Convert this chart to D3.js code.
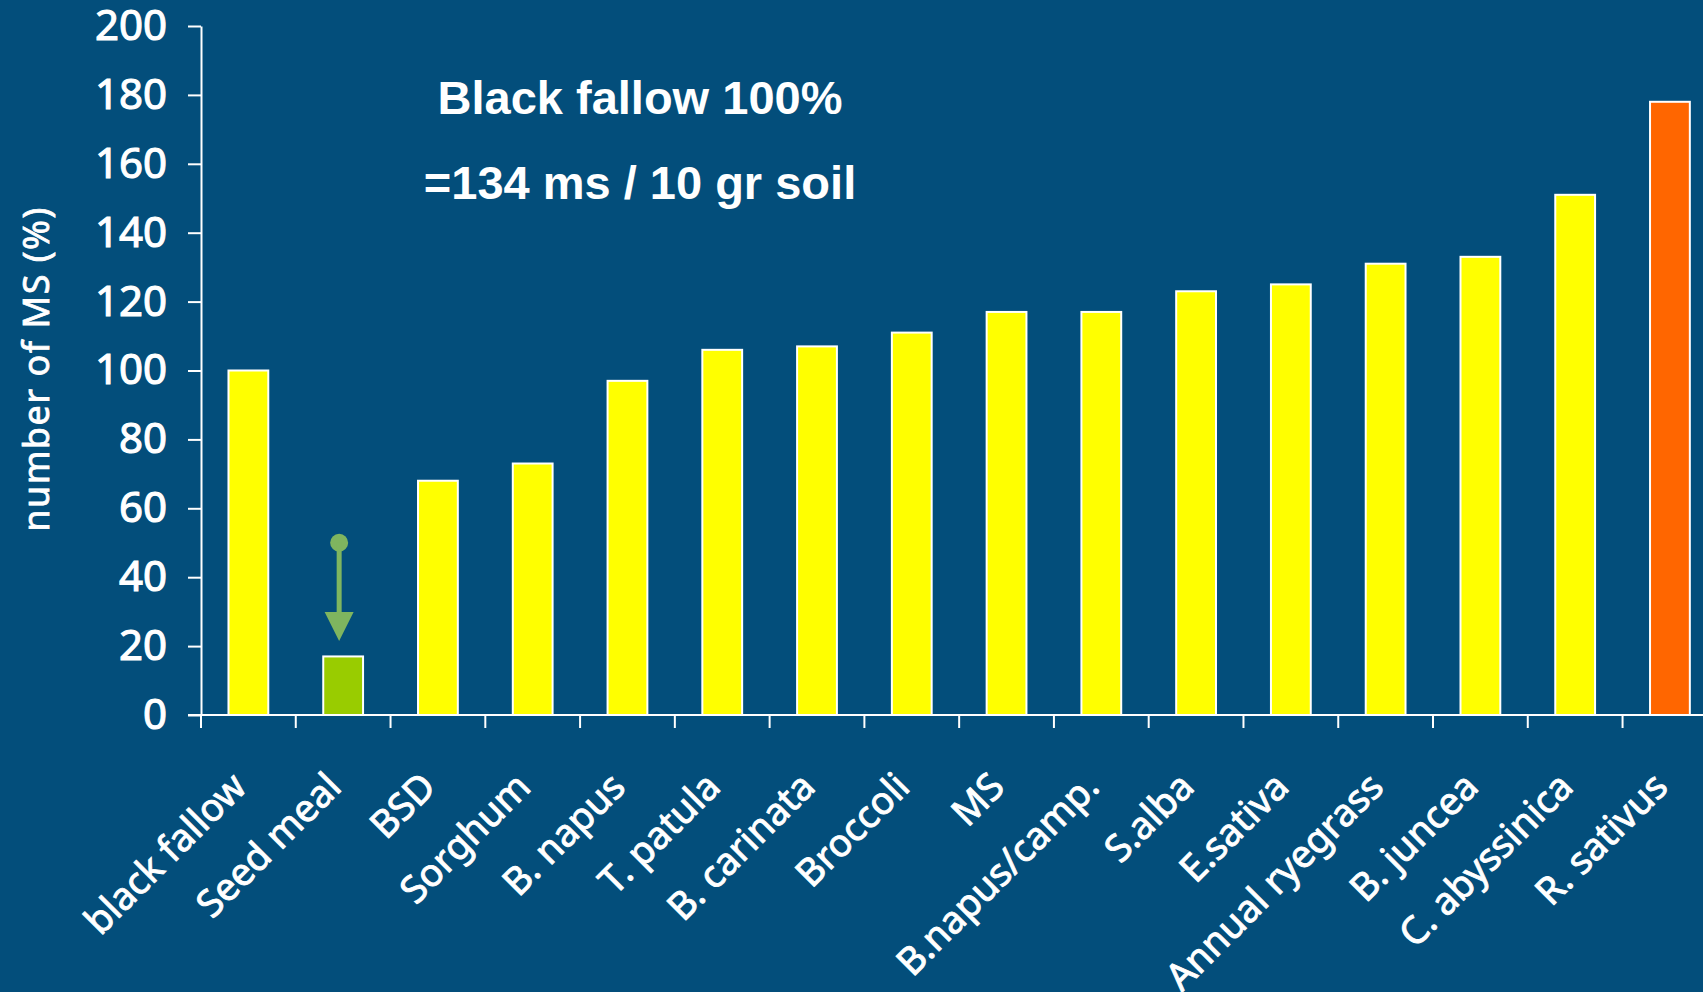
<!DOCTYPE html>
<html>
<head>
<meta charset="utf-8">
<script src="https://cdn.jsdelivr.net/npm/d3@7"></script>
<style>
  html, body { margin: 0; padding: 0; background: #034e7b; }
  svg { display: block; }
</style>
</head>
<body>
<svg id="chart" width="1703" height="992"></svg>
<script>
// ---- data ----
const categories = ["black fallow", "Seed meal", "BSD", "Sorghum", "B. napus", "T. patula",
  "B. carinata", "Broccoli", "MS", "B.napus/camp.", "S.alba", "E.sativa",
  "Annual ryegrass", "B. juncea", "C. abyssinica", "R. sativus"];
const values = [100, 17, 68, 73, 97, 106, 107, 111, 117, 117, 123, 125, 131, 133, 151, 178];
const barColors = ["#ffff00", "#99cc00", "#ffff00", "#ffff00", "#ffff00", "#ffff00",
  "#ffff00", "#ffff00", "#ffff00", "#ffff00", "#ffff00", "#ffff00",
  "#ffff00", "#ffff00", "#ffff00", "#ff6600"];
const yTicks = [0, 20, 40, 60, 80, 100, 120, 140, 160, 180, 200];
const yTitle = "number of MS (%)";
const noteLines = ["Black fallow 100%", "=134 ms / 10 gr soil"];
const arrowFrom = 50;   // value where the green arrow starts
const arrowTo = 21.5;   // value at arrow tip

// ---- layout ----
const svg = d3.select("#chart");
const W = 1703, H = 992;
const x0 = 201, step = 94.77, y0 = 715, yTop = 26;

const x = d3.scaleBand().domain(categories).range([x0, x0 + step * categories.length]).padding(0);
const y = d3.scaleLinear().domain([0, 200]).range([y0, yTop]);
const bw = x.bandwidth() * 0.42;

svg.append("rect").attr("width", W).attr("height", H).attr("fill", "#034e7b");

// bars
svg.append("g").selectAll("rect").data(categories).join("rect")
  .attr("x", d => x(d) + (x.bandwidth() - bw) / 2)
  .attr("y", (d, i) => y(values[i]))
  .attr("width", bw)
  .attr("height", (d, i) => y(0) - y(values[i]))
  .attr("fill", (d, i) => barColors[i])
  .attr("stroke", "#ffffff")
  .attr("stroke-width", 2);

// y axis
const yAxis = svg.append("g").attr("transform", `translate(${x0},0)`)
  .call(d3.axisLeft(y).tickValues(yTicks).tickSize(13).tickPadding(21).tickSizeOuter(0));
yAxis.select(".domain").attr("stroke", "#fff").attr("stroke-width", 2);
yAxis.selectAll(".tick line").attr("stroke", "#fff").attr("stroke-width", 2);
yAxis.selectAll(".tick text").attr("fill", "#fff")
  .attr("stroke", "#fff").attr("stroke-width", 1.1)
  .style("font-family", "'Noto Sans', sans-serif").style("font-size", "42px");

// x axis line
svg.append("line").attr("x1", x0 - 13).attr("x2", W).attr("y1", y0).attr("y2", y0)
  .attr("stroke", "#fff").attr("stroke-width", 2);
// x ticks at band boundaries
svg.append("g").selectAll("line").data(categories).join("line")
  .attr("x1", d => x(d)).attr("x2", d => x(d))
  .attr("y1", y0).attr("y2", y0 + 13)
  .attr("stroke", "#fff").attr("stroke-width", 2);

// x labels
svg.append("g").selectAll("text").data(categories).join("text")
  .attr("transform", d => `translate(${x(d) + x.bandwidth() / 2},${y0 + 74}) rotate(-45)`)
  .attr("text-anchor", "end")
  .attr("fill", "#fff")
  .attr("stroke", "#fff").attr("stroke-width", 0.9)
  .style("font-family", "'Noto Sans', sans-serif").style("font-size", "38px")
  .text(d => d);

// y title
svg.append("text")
  .attr("transform", `translate(49,369) rotate(-90)`)
  .attr("text-anchor", "middle")
  .attr("fill", "#fff")
  .attr("stroke", "#fff").attr("stroke-width", 0.8)
  .style("font-family", "'Noto Sans', sans-serif").style("font-size", "36px")
  .style("letter-spacing", "1.5px")
  .text(yTitle);

// annotation text
svg.append("g").selectAll("text").data(noteLines).join("text")
  .attr("x", 640).attr("y", (d, i) => [114, 199][i])
  .attr("text-anchor", "middle")
  .attr("fill", "#fff")
  .style("font-family", "'Liberation Sans', Arial, sans-serif").style("font-size", "47px")
  .style("font-weight", "bold")
  .text(d => d);

// green arrow over Seed meal
const ax = x("Seed meal") + x.bandwidth() / 2 - 4;
const green = "#7fb55f";
svg.append("circle").attr("cx", ax).attr("cy", y(arrowFrom)).attr("r", 9).attr("fill", green);
svg.append("line").attr("x1", ax).attr("x2", ax).attr("y1", y(arrowFrom)).attr("y2", y(arrowTo) - 25)
  .attr("stroke", green).attr("stroke-width", 5);
svg.append("path")
  .attr("d", `M${ax - 14.5},${y(arrowTo) - 29} L${ax + 14.5},${y(arrowTo) - 29} L${ax},${y(arrowTo)} Z`)
  .attr("fill", green);
</script>
</body>
</html>
